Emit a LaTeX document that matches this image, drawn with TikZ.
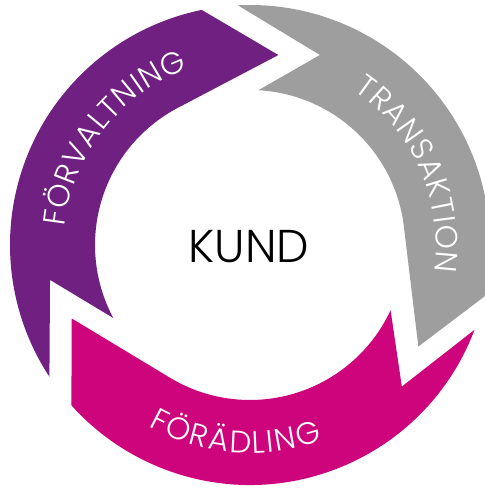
\documentclass[tikz,border=0pt]{standalone}
\usepackage{fontspec}
\setmainfont{Poppins Light}
\usetikzlibrary{decorations.text}
\definecolor{bandpurple}{RGB}{111,32,128}
\definecolor{bandpink}{RGB}{206,4,125}
\definecolor{bandgray}{RGB}{158,158,158}
\newcommand{\bandfont}{\fontsize{31}{31}\selectfont\fontdimen2\font=1.8pt\relax}
\newcommand{\topbandfont}{\fontsize{30.9}{30.9}\selectfont\fontdimen2\font=1.0pt\relax}
\begin{document}
\begin{tikzpicture}[x=1pt,y=1pt,
  bandtext/.style={decorate, decoration={text along path, text align=center, text color=white}},
  kundtext/.style={font=\fontsize{46}{46}\selectfont, text=black, inner sep=0pt}]
\useasboundingbox (-250,-246) rectangle (235,245);
\fill[white] (-250,-246) rectangle (235,245);
% purple band (FÖRVALTNING)
\fill[bandpurple] (213.3:240pt) arc[start angle=213.3, end angle=101.6, radius=240pt]
  -- (81.5:192.1pt) -- (117.7:155pt) arc[start angle=117.7, end angle=208.1, radius=155pt]
  -- (189.9:203pt) -- cycle;
% gray band (TRANSAKTION)
\fill[bandgray] (92.9:240pt) arc[start angle=92.9, end angle=-12.4, radius=240pt]
  -- (-31.1:196.6pt) -- (6.9:155pt) arc[start angle=6.9, end angle=86.9, radius=155pt]
  -- (69.8:202.5pt) -- cycle;
% pink band (FÖRÄDLING)
\fill[bandpink] (-20.7:240pt) arc[start angle=-20.7, end angle=-138.1, radius=240pt]
  -- (202.4:192.8pt) -- (238.9:155pt) arc[start angle=238.9, end angle=335.1, radius=155pt]
  -- (-43:207.6pt) -- cycle;
% band labels
\path[bandtext, decoration={text={|\topbandfont|F Ö R V A L T N I N G}}]
  (181.9:186pt) arc[start angle=181.9, end angle=101.9, radius=186pt];
\path[bandtext, decoration={text={|\topbandfont|T R A N S A K T I O N}}]
  (64:186pt) arc[start angle=64, end angle=-16, radius=186pt];
\path[bandtext, decoration={text={|\bandfont|F Ö R Ä D L I N G}}]
  (230.5:208pt) arc[start angle=230.5, end angle=300.5, radius=208pt];
\node[kundtext] (kund) at (-1,-2) {KUND};
\end{tikzpicture}
\end{document}
